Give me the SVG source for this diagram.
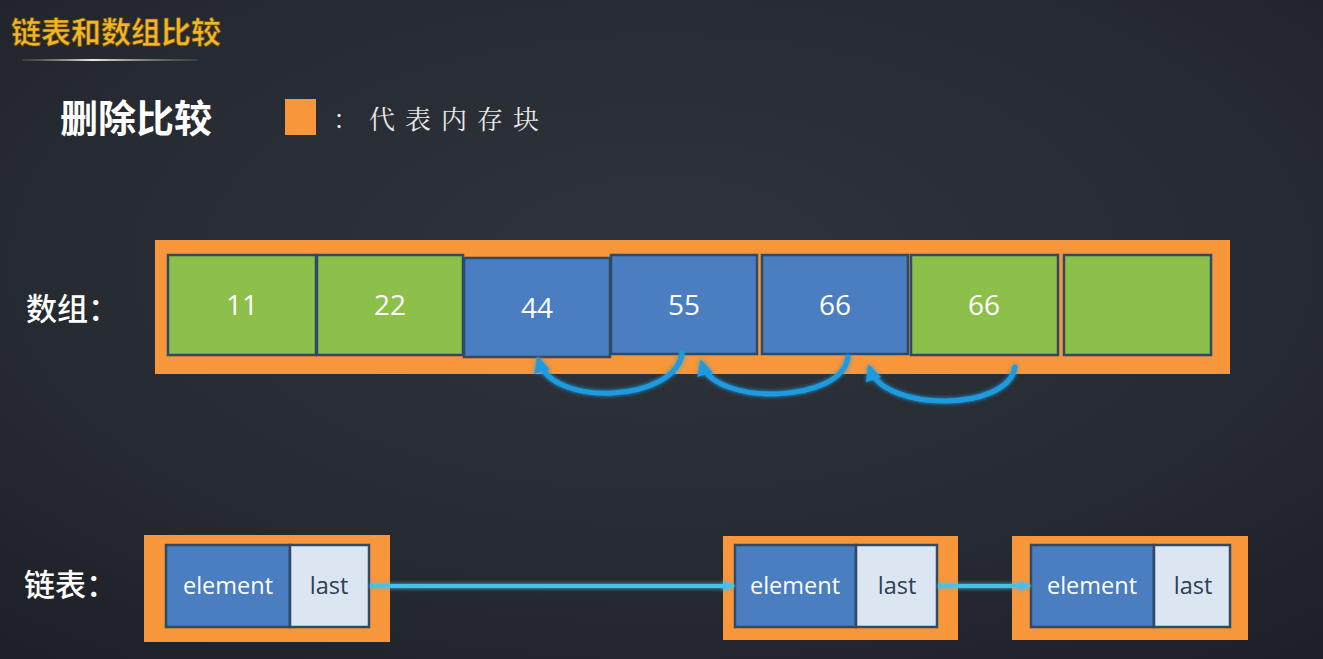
<svg xmlns="http://www.w3.org/2000/svg" width="1323" height="659" viewBox="0 0 1323 659">
<defs>
<radialGradient id="bg" cx="0.5" cy="0.4" r="0.8">
<stop offset="0" stop-color="#2f333b"/>
<stop offset="0.6" stop-color="#262a31"/>
<stop offset="1" stop-color="#1c1f25"/>
</radialGradient>
<linearGradient id="ul" x1="0" x2="1" y1="0" y2="0">
<stop offset="0" stop-color="#888" stop-opacity="0.2"/>
<stop offset="0.4" stop-color="#e8e8e8"/>
<stop offset="1" stop-color="#888" stop-opacity="0.2"/>
</linearGradient>
<filter id="glow" filterUnits="userSpaceOnUse" x="0" y="0" width="1323" height="659">
<feGaussianBlur stdDeviation="2" result="b"/>
<feMerge><feMergeNode in="b"/><feMergeNode in="SourceGraphic"/></feMerge>
</filter>
<marker id="ah" viewBox="0 0 10 10" refX="7" refY="5" markerWidth="3.2" markerHeight="3.2" orient="auto">
<path d="M0 0 L10 5 L0 10 Z" fill="#1e9be0"/>
</marker>
<marker id="ah2" viewBox="0 0 10 10" refX="8" refY="5" markerWidth="3" markerHeight="3" orient="auto">
<path d="M0 1 L10 5 L0 9 Z" fill="#4cc0e6"/>
</marker>
</defs>
<style>
.mem{fill:#f7963a;}
.g{fill:#8dc04a;stroke:#2e4a66;stroke-width:2.5;}
.b{fill:#4a7ec0;stroke:#2e4a66;stroke-width:2.5;}
.l{fill:#dce6f2;stroke:#2e4a66;stroke-width:2.5;}
.num{font-family:"Open Sans","Liberation Sans",sans-serif;font-size:28px;fill:#ffffff;text-anchor:middle;}
.el{font-family:"Open Sans","Liberation Sans",sans-serif;font-size:23.5px;fill:#ffffff;text-anchor:middle;}
.la{font-family:"Open Sans","Liberation Sans",sans-serif;font-size:23.5px;fill:#2d3e55;text-anchor:middle;}
.lbl{font-family:"Noto Sans CJK SC",sans-serif;font-size:31px;fill:#ffffff;font-weight:500;}
.arc{fill:none;stroke:#1e9be0;stroke-width:5;stroke-linecap:round;filter:url(#glow);}
.ln{fill:none;stroke:#4cc0e6;stroke-width:4;filter:url(#glow);}
</style>
<rect width="1323" height="659" fill="url(#bg)"/>

<g id="title">
<text x="11" y="43" font-family="Noto Sans CJK SC,sans-serif" font-size="30" font-weight="700" fill="#f2b628" stroke="#6b4a00" stroke-width="0.6">链表和数组比较</text>
<rect x="22" y="59" width="176" height="2" fill="url(#ul)"/>
</g>

<g id="heading">
<text x="60" y="132" font-family="Noto Sans CJK SC,sans-serif" font-size="38" font-weight="700" fill="#ffffff">删除比较</text>
</g>

<g id="legend">
<rect x="285" y="99" width="31" height="36" class="mem"/>
<text x="333" y="129" font-family="Noto Serif CJK SC,Noto Sans CJK SC,serif" font-size="26" fill="#e8e8e8" letter-spacing="10">：代表内存块</text>
</g>

<g id="array-label"><text x="26" y="320" class="lbl">数组：</text></g>

<g id="array">
<rect x="155" y="240" width="1075" height="134" class="mem"/>
<g id="cell-11"><rect x="168" y="255" width="148" height="100" class="g"/><text x="242" y="315" class="num">11</text></g>
<g id="cell-22"><rect x="317" y="255" width="146" height="100" class="g"/><text x="390" y="315" class="num">22</text></g>
<g id="cell-44"><rect x="464" y="258" width="146" height="99" class="b"/><text x="537" y="318" class="num">44</text></g>
<g id="cell-55"><rect x="611" y="255" width="146" height="99" class="b"/><text x="684" y="315" class="num">55</text></g>
<g id="cell-66a"><rect x="762" y="255" width="146" height="99" class="b"/><text x="835" y="315" class="num">66</text></g>
<g id="cell-66b"><rect x="911" y="255" width="147" height="100" class="g"/><text x="984" y="315" class="num">66</text></g>
<g id="cell-empty"><rect x="1064" y="255" width="147" height="100" class="g"/></g>
</g>

<g id="list-label"><text x="24" y="596" class="lbl">链表：</text></g>

<g id="node-1">
<rect x="144" y="535" width="246" height="107" class="mem"/>
<rect x="166" y="545" width="124" height="82" class="b"/>
<rect x="290" y="545" width="79" height="82" class="l"/>
<text x="228" y="594" class="el">element</text>
<text x="329" y="594" class="la">last</text>
</g>
<g id="node-2">
<rect x="723" y="536" width="235" height="104" class="mem"/>
<rect x="735" y="545" width="121" height="82" class="b"/>
<rect x="856" y="545" width="81" height="82" class="l"/>
<text x="795" y="594" class="el">element</text>
<text x="897" y="594" class="la">last</text>
</g>
<g id="node-3">
<rect x="1012" y="536" width="236" height="104" class="mem"/>
<rect x="1031" y="545" width="123" height="82" class="b"/>
<rect x="1154" y="545" width="76" height="82" class="l"/>
<text x="1092" y="594" class="el">element</text>
<text x="1193" y="594" class="la">last</text>
</g>

<g id="connectors">
<path class="arc" d="M682 353 C676 402 552 408 539 361" marker-end="url(#ah)"/>
<path class="arc" d="M848 357 C842 404 714 406 702 364" marker-end="url(#ah)"/>
<path class="arc" d="M1015 367 C1008 412 884 412 870 369" marker-end="url(#ah)"/>
<path class="ln" d="M370 586 L733 586" marker-end="url(#ah2)"/>
<path class="ln" d="M938 586 L1029 586" marker-end="url(#ah2)"/>
</g>
</svg>
